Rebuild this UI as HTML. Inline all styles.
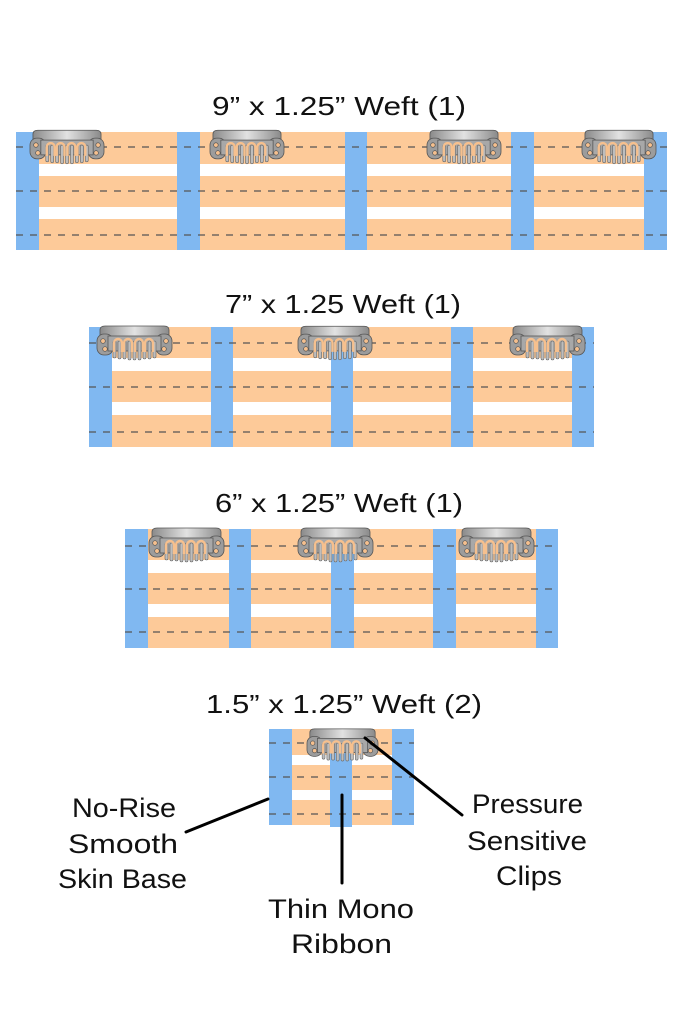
<!DOCTYPE html>
<html>
<head>
<meta charset="utf-8">
<style>
html,body{margin:0;padding:0;background:#fff;}
svg{display:block;}
text{font-family:"Liberation Sans","DejaVu Sans",sans-serif;fill:#111;}
</style>
</head>
<body>
<svg width="683" height="1024" viewBox="0 0 683 1024" xmlns="http://www.w3.org/2000/svg">
<defs>
  <linearGradient id="cg" x1="0" y1="0" x2="1" y2="0">
    <stop offset="0" stop-color="#8a8a8a"/>
    <stop offset="0.5" stop-color="#e2e2e2"/>
    <stop offset="1" stop-color="#8a8a8a"/>
  </linearGradient>
  <symbol id="clip" viewBox="0 0 75 34" overflow="visible">
    <!-- top bar -->
    <path d="M3 4 Q3 0 8 0 H67 Q72 0 72 4 V15 H3 Z" fill="url(#cg)" stroke="#555" stroke-width="0.8"/>
    <!-- lobes -->
    <rect x="0" y="8" width="16" height="21" rx="7" fill="#9c9c9c" stroke="#555" stroke-width="0.8"/>
    <rect x="59" y="8" width="16" height="21" rx="7" fill="#9c9c9c" stroke="#555" stroke-width="0.8"/>
    <!-- center body -->
    <rect x="11" y="10" width="53" height="15" fill="#a8a8a8" stroke="#555" stroke-width="0.8"/>
    <!-- teeth -->
    <g fill="#bdbdbd" stroke="#666" stroke-width="0.6">
      <rect x="16" y="15" width="3" height="17" rx="1.5"/>
      <rect x="21" y="15" width="3" height="18" rx="1.5"/>
      <rect x="26" y="15" width="3" height="18" rx="1.5"/>
      <rect x="31" y="15" width="3" height="19" rx="1.5"/>
      <rect x="36" y="15" width="3" height="19" rx="1.5"/>
      <rect x="41" y="15" width="3" height="19" rx="1.5"/>
      <rect x="46" y="15" width="3" height="18" rx="1.5"/>
      <rect x="51" y="15" width="3" height="18" rx="1.5"/>
      <rect x="56" y="15" width="3" height="17" rx="1.5"/>
    </g>
    <!-- peach loops -->
    <g fill="none" stroke="#f6c08e" stroke-width="2.4">
      <path d="M17 26 V17 a4 4 0 0 1 8 0 V26"/>
      <path d="M27 26 V17 a4 4 0 0 1 8 0 V26"/>
      <path d="M38 26 V17 a4 4 0 0 1 8 0 V26"/>
      <path d="M48 26 V17 a4 4 0 0 1 8 0 V26"/>
    </g>
    <!-- holes -->
    <g fill="#f6c08e" stroke="#555" stroke-width="0.7">
      <circle cx="6" cy="15" r="2.3"/>
      <circle cx="8" cy="23" r="2.3"/>
      <circle cx="69" cy="15" r="2.3"/>
      <circle cx="67" cy="23" r="2.3"/>
    </g>
  </symbol>
</defs>

<!-- ===== Weft 1 ===== -->
<text x="212" y="115" font-size="26" textLength="254" lengthAdjust="spacingAndGlyphs">9” x 1.25” Weft (1)</text>
<g>
  <rect x="16" y="132" width="651" height="32" fill="#fdca99"/>
  <rect x="16" y="176" width="651" height="31" fill="#fdca99"/>
  <rect x="16" y="219" width="651" height="31" fill="#fdca99"/>
  <g fill="#80b8f1">
    <rect x="16" y="132" width="23" height="118"/>
    <rect x="177" y="132" width="23" height="118"/>
    <rect x="345" y="132" width="22" height="118"/>
    <rect x="511" y="132" width="23" height="118"/>
    <rect x="644" y="132" width="23" height="118"/>
  </g>
  <g stroke="#555" stroke-width="1.2" stroke-dasharray="7 7">
    <line x1="16" y1="147" x2="667" y2="147"/>
    <line x1="16" y1="191" x2="667" y2="191"/>
    <line x1="16" y1="235" x2="667" y2="235"/>
  </g>
  <use href="#clip" x="30" y="130" width="74" height="34"/>
  <use href="#clip" x="210" y="130" width="74" height="34"/>
  <use href="#clip" x="427" y="130" width="74" height="34"/>
  <use href="#clip" x="582" y="130" width="74" height="34"/>
</g>

<!-- ===== Weft 2 ===== -->
<text x="225" y="313" font-size="26" textLength="236" lengthAdjust="spacingAndGlyphs">7” x 1.25 Weft (1)</text>
<g>
  <rect x="89" y="327" width="505" height="31" fill="#fdca99"/>
  <rect x="89" y="371" width="505" height="31" fill="#fdca99"/>
  <rect x="89" y="415" width="505" height="32" fill="#fdca99"/>
  <g fill="#80b8f1">
    <rect x="89" y="327" width="23" height="120"/>
    <rect x="211" y="327" width="22" height="120"/>
    <rect x="331" y="340" width="22" height="107"/>
    <rect x="451" y="327" width="22" height="120"/>
    <rect x="572" y="327" width="22" height="120"/>
  </g>
  <g stroke="#555" stroke-width="1.2" stroke-dasharray="7 7">
    <line x1="89" y1="343" x2="594" y2="343"/>
    <line x1="89" y1="387" x2="594" y2="387"/>
    <line x1="89" y1="432" x2="594" y2="432"/>
  </g>
  <use href="#clip" x="97" y="326" width="75" height="34"/>
  <use href="#clip" x="298" y="326" width="74" height="34"/>
  <use href="#clip" x="510" y="326" width="75" height="34"/>
</g>

<!-- ===== Weft 3 ===== -->
<text x="215" y="512" font-size="26" textLength="248" lengthAdjust="spacingAndGlyphs">6” x 1.25” Weft (1)</text>
<g>
  <rect x="125" y="529" width="433" height="31" fill="#fdca99"/>
  <rect x="125" y="573" width="433" height="31" fill="#fdca99"/>
  <rect x="125" y="617" width="433" height="31" fill="#fdca99"/>
  <g fill="#80b8f1">
    <rect x="125" y="529" width="23" height="119"/>
    <rect x="229" y="529" width="22" height="119"/>
    <rect x="331" y="545" width="23" height="103"/>
    <rect x="433" y="529" width="23" height="119"/>
    <rect x="536" y="529" width="22" height="119"/>
  </g>
  <g stroke="#555" stroke-width="1.2" stroke-dasharray="7 7">
    <line x1="125" y1="546" x2="558" y2="546"/>
    <line x1="125" y1="589" x2="558" y2="589"/>
    <line x1="125" y1="632" x2="558" y2="632"/>
  </g>
  <use href="#clip" x="148" y="528" width="77" height="34"/>
  <use href="#clip" x="298" y="528" width="75" height="34"/>
  <use href="#clip" x="458" y="528" width="77" height="34"/>
</g>

<!-- ===== Weft 4 ===== -->
<text x="206" y="713" font-size="26" textLength="276" lengthAdjust="spacingAndGlyphs">1.5” x 1.25” Weft (2)</text>
<g>
  <rect x="269" y="729" width="145" height="26" fill="#fdca99"/>
  <rect x="269" y="765" width="145" height="25" fill="#fdca99"/>
  <rect x="269" y="800" width="145" height="25" fill="#fdca99"/>
  <g fill="#80b8f1">
    <rect x="269" y="729" width="23" height="96"/>
    <rect x="330" y="745" width="22" height="82"/>
    <rect x="392" y="729" width="22" height="96"/>
  </g>
  <g stroke="#555" stroke-width="1.2" stroke-dasharray="7 7">
    <line x1="269" y1="743" x2="414" y2="743"/>
    <line x1="269" y1="777" x2="414" y2="777"/>
    <line x1="269" y1="814" x2="414" y2="814"/>
  </g>
  <use href="#clip" x="307" y="728" width="71" height="34"/>
</g>

<!-- callout lines -->
<g stroke="#000" stroke-width="3" stroke-linecap="round">
  <line x1="186" y1="832" x2="268" y2="799"/>
  <line x1="342" y1="795" x2="342" y2="883"/>
  <line x1="365" y1="738" x2="462" y2="815"/>
</g>

<!-- labels -->
<g font-size="27">
  <text x="72" y="817" textLength="104" lengthAdjust="spacingAndGlyphs">No-Rise</text>
  <text x="68" y="853" textLength="110" lengthAdjust="spacingAndGlyphs">Smooth</text>
  <text x="58" y="888" textLength="129" lengthAdjust="spacingAndGlyphs">Skin Base</text>

  <text x="268" y="918" textLength="146" lengthAdjust="spacingAndGlyphs">Thin Mono</text>
  <text x="291" y="953" textLength="101" lengthAdjust="spacingAndGlyphs">Ribbon</text>

  <text x="472" y="813" textLength="111" lengthAdjust="spacingAndGlyphs">Pressure</text>
  <text x="467" y="850" textLength="120" lengthAdjust="spacingAndGlyphs">Sensitive</text>
  <text x="496" y="885" textLength="66" lengthAdjust="spacingAndGlyphs">Clips</text>
</g>
</svg>
</body>
</html>
